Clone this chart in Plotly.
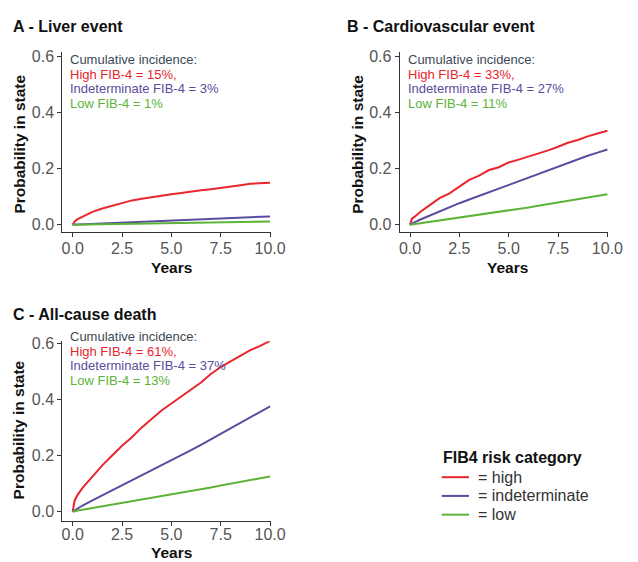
import plotly.graph_objects as go

W, H = 638, 562

years = [0, 0.1, 0.25, 0.5, 1, 1.5, 2, 2.5, 3, 3.5, 4, 4.5, 5, 5.5, 6, 6.5, 7, 7.5, 8, 8.5, 9, 9.5, 10]

liver_high = [0, 0.012, 0.02, 0.028, 0.046, 0.058, 0.068, 0.078, 0.087, 0.093, 0.099, 0.104, 0.109, 0.113, 0.119, 0.123, 0.127, 0.131, 0.135, 0.141, 0.146, 0.148, 0.15]
liver_indet = [0, 0.0003, 0.0008, 0.0015, 0.003, 0.0045, 0.006, 0.0075, 0.009, 0.0105, 0.012, 0.0135, 0.015, 0.0165, 0.018, 0.0195, 0.021, 0.0225, 0.024, 0.0255, 0.027, 0.0285, 0.03]
liver_low = [0, 0.0001, 0.0003, 0.0006, 0.0012, 0.0018, 0.0024, 0.003, 0.0036, 0.0042, 0.0048, 0.0054, 0.006, 0.0066, 0.0072, 0.0078, 0.0084, 0.009, 0.0096, 0.0102, 0.0108, 0.0114, 0.012]

cv_high = [0, 0.022, 0.03, 0.045, 0.07, 0.095, 0.112, 0.135, 0.16, 0.175, 0.195, 0.205, 0.222, 0.232, 0.243, 0.253, 0.265, 0.278, 0.292, 0.302, 0.315, 0.325, 0.335]
cv_indet = [0, 0.005, 0.01, 0.018, 0.033, 0.048, 0.062, 0.077, 0.09, 0.103, 0.116, 0.129, 0.143, 0.156, 0.17, 0.183, 0.196, 0.209, 0.222, 0.234, 0.246, 0.257, 0.268]
cv_low = [0, 0.001, 0.003, 0.005, 0.01, 0.015, 0.02, 0.025, 0.03, 0.035, 0.04, 0.045, 0.051, 0.056, 0.062, 0.068, 0.074, 0.08, 0.086, 0.091, 0.097, 0.103, 0.109]

death_high = [0, 0.04, 0.06, 0.085, 0.125, 0.165, 0.2, 0.235, 0.265, 0.3, 0.33, 0.36, 0.385, 0.41, 0.435, 0.46, 0.49, 0.515, 0.535, 0.555, 0.575, 0.59, 0.608]
death_indet = [0, 0.005, 0.012, 0.022, 0.04, 0.058, 0.075, 0.093, 0.11, 0.128, 0.145, 0.163, 0.183, 0.2, 0.219, 0.238, 0.258, 0.278, 0.297, 0.317, 0.336, 0.356, 0.375]
death_low = [0, 0.002, 0.004, 0.007, 0.013, 0.019, 0.025, 0.031, 0.037, 0.043, 0.049, 0.055, 0.06, 0.066, 0.072, 0.079, 0.086, 0.093, 0.1, 0.106, 0.112, 0.119, 0.125]

panel_titles = ["A - Liver event", "B - Cardiovascular event", "C - All-cause death"]
legend_title = "FIB4 risk category"
categories = ["= high", "= indeterminate", "= low"]
colors = ["#e8262b", "#5a4c9e", "#5cb338"]
incidence = [["15%", "3%", "1%"], ["33%", "27%", "11%"], ["61%", "37%", "13%"]]
x_ticks = [0, 2.5, 5, 7.5, 10]
x_ticklabels = ["0.0", "2.5", "5.0", "7.5", "10.0"]
y_ticks = [0, 0.2, 0.4, 0.6]
y_ticklabels = ["0.0", "0.2", "0.4", "0.6"]

series = [
    [liver_high, liver_indet, liver_low],
    [cv_high, cv_indet, cv_low],
    [death_high, death_indet, death_low],
]

FONT = "Liberation Sans, Arial, sans-serif"

def px(x):
    return x / W

def py(y):
    return 1 - y / H

# panel pixel boxes (left, right, top, bottom), y ranges, x tick label standoff
boxes = [
    (63, 277, 47, 229),
    (409, 623, 47, 229),
    (63, 277, 340, 522),
]
yranges = [[-0.0246, 0.614], [-0.0246, 0.614], [-0.0316, 0.607]]
xstand = [-2, -2, -5]

fig = go.Figure()

for i, (box, ser) in enumerate(zip(boxes, series)):
    xa = "x" if i == 0 else f"x{i+1}"
    ya = "y" if i == 0 else f"y{i+1}"
    for j, (vals, name, col) in enumerate(zip(ser, categories, colors)):
        fig.add_trace(go.Scatter(
            x=years, y=vals, mode="lines", name=name,
            line=dict(color=col, width=2),
            xaxis=xa, yaxis=ya, showlegend=False,
        ))
    l, r, t, b = box
    axis_common = dict(
        showgrid=False, zeroline=False, showline=True, linecolor="#333333", linewidth=1.3,
        ticks="outside", ticklen=4, tickwidth=1.3, tickcolor="#333333",
        tickfont=dict(family=FONT, size=16, color="#555555"),
    )
    fig.layout[("xaxis" if i == 0 else f"xaxis{i+1}")] = dict(
        domain=[px(l), px(r)], range=[-0.52, 10.05], anchor=ya,
        tickvals=x_ticks, ticktext=x_ticklabels, ticklabelstandoff=xstand[i], **axis_common)
    fig.layout[("yaxis" if i == 0 else f"yaxis{i+1}")] = dict(
        domain=[py(b), py(t)], range=yranges[i], anchor=xa,
        tickvals=y_ticks, ticktext=y_ticklabels, **axis_common)

annots = []
shapes = []
# panel titles
title_pos = [(10, 21), (353, 21), (10, 313)]
for (x, y), txt in zip(title_pos, panel_titles):
    annots.append(dict(x=px(x), y=py(y), xref="paper", yref="paper", text=f"<b>{txt}</b>",
                       showarrow=False, xanchor="left", yanchor="middle",
                       font=dict(family=FONT, size=16, color="#111111")))
# axis titles
ytitle_pos = [(18, 140), (365, 140), (18, 430)]
xtitle_pos = [(175, 265), (520, 265), (175, 554)]
for (x, y) in ytitle_pos:
    annots.append(dict(x=px(x), y=py(y), xref="paper", yref="paper", text="<b>Probability in state</b>",
                       showarrow=False, textangle=-90, xanchor="center", yanchor="middle",
                       font=dict(family=FONT, size=15.5, color="#111111")))
for (x, y) in xtitle_pos:
    annots.append(dict(x=px(x), y=py(y), xref="paper", yref="paper", text="<b>Years</b>",
                       showarrow=False, xanchor="center", yanchor="middle",
                       font=dict(family=FONT, size=15.5, color="#111111")))
# incidence texts
inc_pos = [(69, 54), (415, 54), (69, 335)]
labels = ["High FIB-4 = {},", "Indeterminate FIB-4 = {}", "Low FIB-4 = {}"]
for (x, y), inc in zip(inc_pos, incidence):
    annots.append(dict(x=px(x), y=py(y), xref="paper", yref="paper", text="Cumulative incidence:",
                       showarrow=False, xanchor="left", yanchor="middle",
                       font=dict(family=FONT, size=13, color="#3c4a58")))
    for k in range(3):
        annots.append(dict(x=px(x), y=py(y + 15 * (k + 1)), xref="paper", yref="paper",
                           text=labels[k].format(inc[k]),
                           showarrow=False, xanchor="left", yanchor="middle",
                           font=dict(family=FONT, size=13, color=colors[k])))

# legend (drawn manually to match compact spacing)
annots.append(dict(x=px(451), y=py(458), xref="paper", yref="paper", text=f"<b>{legend_title}</b>",
                   showarrow=False, xanchor="left", yanchor="middle",
                   font=dict(family=FONT, size=16, color="#111111")))
for k, (name, col) in enumerate(zip(categories, colors)):
    yy = 478 + 19 * k
    shapes.append(dict(type="line", xref="paper", yref="paper",
                       x0=px(452), x1=px(480), y0=py(yy), y1=py(yy),
                       line=dict(color=col, width=2)))
    annots.append(dict(x=px(487), y=py(yy), xref="paper", yref="paper", text=name,
                       showarrow=False, xanchor="left", yanchor="middle",
                       font=dict(family=FONT, size=16, color="#333333")))

fig.update_layout(
    width=W, height=H,
    margin=dict(l=0, r=0, t=0, b=0),
    paper_bgcolor="white", plot_bgcolor="white",
    annotations=annots, shapes=shapes,
    showlegend=False,
)

fig.write_html("out.html", config={"displayModeBar": False},
               post_script="document.body.style.margin='0';")
